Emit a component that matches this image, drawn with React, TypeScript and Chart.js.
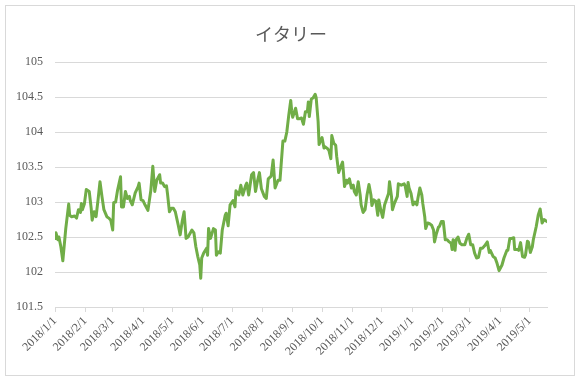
import { useEffect, useRef } from 'react';
import { Chart, registerables } from 'chart.js';

Chart.register(...registerables);

const chartTitle = 'イタリー';

const dates = [
  '2018/1/1','2018/1/2','2018/1/4','2018/1/5','2018/1/7','2018/1/9','2018/1/12','2018/1/15','2018/1/16','2018/1/18',
  '2018/1/21','2018/1/23','2018/1/25','2018/1/27','2018/1/28','2018/1/29','2018/1/31','2018/2/2','2018/2/5','2018/2/7',
  '2018/2/8','2018/2/10','2018/2/12','2018/2/14','2018/2/16','2018/2/18','2018/2/20','2018/2/23','2018/2/25','2018/2/27',
  '2018/3/1','2018/3/2','2018/3/4','2018/3/6','2018/3/9','2018/3/10','2018/3/12','2018/3/14','2018/3/16','2018/3/18',
  '2018/3/19','2018/3/21','2018/3/24','2018/3/27','2018/3/28','2018/3/30','2018/4/1','2018/4/3','2018/4/6','2018/4/9',
  '2018/4/11','2018/4/13','2018/4/15','2018/4/18','2018/4/19','2018/4/21','2018/4/23','2018/4/25','2018/4/26','2018/4/28',
  '2018/4/30','2018/5/2','2018/5/4','2018/5/7','2018/5/9','2018/5/11','2018/5/13','2018/5/15','2018/5/17','2018/5/19',
  '2018/5/21','2018/5/23','2018/5/25','2018/5/27','2018/5/29','2018/5/30','2018/5/31','2018/6/2','2018/6/5','2018/6/6',
  '2018/6/7','2018/6/9','2018/6/12','2018/6/14','2018/6/15','2018/6/17','2018/6/19','2018/6/21','2018/6/24','2018/6/25',
  '2018/6/27','2018/6/29','2018/7/2','2018/7/4','2018/7/5','2018/7/8','2018/7/10','2018/7/12','2018/7/15','2018/7/16',
  '2018/7/18','2018/7/21','2018/7/23','2018/7/25','2018/7/27','2018/7/29','2018/7/31','2018/8/3','2018/8/5','2018/8/7',
  '2018/8/10','2018/8/12','2018/8/14','2018/8/17','2018/8/19','2018/8/22','2018/8/24','2018/8/26','2018/8/28','2018/8/30',
  '2018/8/31','2018/9/1','2018/9/4','2018/9/6','2018/9/8','2018/9/10','2018/9/12','2018/9/14','2018/9/16','2018/9/17',
  '2018/9/18','2018/9/20','2018/9/22','2018/9/24','2018/9/25','2018/9/27','2018/9/28','2018/9/29','2018/10/1','2018/10/3',
  '2018/10/4','2018/10/6','2018/10/8','2018/10/10','2018/10/11','2018/10/13','2018/10/15','2018/10/16','2018/10/18','2018/10/20',
  '2018/10/22','2018/10/23','2018/10/24','2018/10/26','2018/10/27','2018/10/29','2018/10/31','2018/11/2','2018/11/3','2018/11/5',
  '2018/11/7','2018/11/9','2018/11/10','2018/11/12','2018/11/14','2018/11/16','2018/11/18','2018/11/20','2018/11/21','2018/11/23',
  '2018/11/25','2018/11/27','2018/11/28','2018/11/30','2018/12/2','2018/12/4','2018/12/5','2018/12/8','2018/12/9','2018/12/11',
  '2018/12/12','2018/12/14','2018/12/17','2018/12/18','2018/12/21','2018/12/24','2018/12/25','2018/12/27','2018/12/28','2018/12/29',
  '2018/12/31','2019/1/2','2019/1/4','2019/1/6','2019/1/7','2019/1/9','2019/1/11','2019/1/12','2019/1/14','2019/1/15',
  '2019/1/17','2019/1/19','2019/1/21','2019/1/23','2019/1/24','2019/1/26','2019/1/28','2019/1/29','2019/1/31','2019/2/2',
  '2019/2/4','2019/2/6','2019/2/8','2019/2/10','2019/2/11','2019/2/12','2019/2/14','2019/2/15','2019/2/17','2019/2/19',
  '2019/2/21','2019/2/24','2019/2/26','2019/2/28','2019/3/2','2019/3/4','2019/3/6','2019/3/8','2019/3/10','2019/3/12',
  '2019/3/14','2019/3/16','2019/3/18','2019/3/19','2019/3/21','2019/3/22','2019/3/25','2019/3/27','2019/3/29','2019/3/31',
  '2019/4/3','2019/4/5','2019/4/8','2019/4/9','2019/4/11','2019/4/13','2019/4/15','2019/4/16','2019/4/19','2019/4/20',
  '2019/4/22','2019/4/24','2019/4/26','2019/4/27','2019/4/29','2019/4/30','2019/5/2','2019/5/4','2019/5/5','2019/5/8',
  '2019/5/10','2019/5/12','2019/5/14','2019/5/16','2019/5/17','2019/5/19',
];

const values = [
  102.48,102.56,102.46,102.5,102.36,102.16,102.62,102.97,102.81,102.79,
  102.8,102.77,102.89,102.85,102.98,102.89,102.97,103.18,103.15,102.91,
  102.74,102.86,102.79,103.03,103.29,103.08,102.89,102.79,102.77,102.74,
  102.6,102.99,103.0,103.17,103.36,102.93,102.93,103.15,103.05,103.08,
  103.02,102.96,103.13,103.22,103.27,103.03,103.02,102.96,102.88,103.17,
  103.51,103.15,103.31,103.39,103.27,103.27,103.22,103.23,103.12,102.86,
  102.91,102.91,102.86,102.67,102.53,102.72,102.86,102.48,102.5,102.55,
  102.6,102.56,102.36,102.22,102.1,101.91,102.2,102.27,102.34,102.24,
  102.62,102.48,102.62,102.6,102.24,102.29,102.27,102.6,102.81,102.84,
  102.66,102.96,103.02,102.93,103.16,103.1,103.24,103.1,103.24,103.27,
  103.1,103.39,103.42,103.15,103.3,103.42,103.19,103.08,103.05,103.33,
  103.37,103.6,103.2,103.31,103.31,103.87,103.87,104.0,104.24,104.45,
  104.3,104.21,104.34,104.19,104.19,104.2,104.11,104.29,104.29,104.43,
  104.22,104.47,104.49,104.54,104.49,104.15,103.82,103.86,103.92,103.77,
  103.79,103.77,103.74,103.62,103.95,103.84,103.81,103.65,103.42,103.5,
  103.57,103.41,103.22,103.31,103.27,103.33,103.2,103.24,103.15,103.1,
  103.29,103.1,102.96,102.85,102.89,103.1,103.25,103.1,102.95,103.03,
  103.01,102.81,103.03,102.89,102.78,102.96,103.0,103.12,103.29,103.08,
  102.89,102.98,103.08,103.26,103.24,103.26,103.23,103.08,103.28,103.2,
  103.12,102.96,103.0,102.96,103.05,103.2,103.1,102.98,102.79,102.62,
  102.7,102.69,102.67,102.6,102.43,102.55,102.64,102.65,102.72,102.72,
  102.46,102.46,102.43,102.41,102.32,102.46,102.31,102.46,102.5,102.41,
  102.39,102.39,102.48,102.54,102.39,102.39,102.27,102.2,102.21,102.34,
  102.34,102.37,102.41,102.43,102.28,102.31,102.22,102.2,102.12,102.02,
  102.1,102.2,102.31,102.31,102.48,102.48,102.49,102.32,102.32,102.31,
  102.42,102.22,102.21,102.24,102.44,102.43,102.28,102.36,102.46,102.65,
  102.81,102.9,102.7,102.75,102.74,102.72,
];

const tickLabels = [
  '2018/1/1','2018/2/1','2018/3/1','2018/4/1','2018/5/1','2018/6/1','2018/7/1','2018/8/1','2018/9/1',
  '2018/10/1','2018/11/1','2018/12/1','2019/1/1','2019/2/1','2019/3/1','2019/4/1','2019/5/1',
];

const yMin = 101.5;
const yMax = 105;
const yStep = 0.5;

function dayOffset(s: string): number {
  const [y, m, d] = s.split('/').map(Number);
  return Math.round((Date.UTC(y, m - 1, d) - Date.UTC(2018, 0, 1)) / 86400000);
}

const GRID = '#d9d9d9';
const TEXT = '#595959';
const SERIF = '"Liberation Serif", "Times New Roman", serif';

export default function App() {
  const ref = useRef<HTMLCanvasElement | null>(null);

  useEffect(() => {
    if (!ref.current) return;
    const points = dates.map((d, i) => ({ x: dayOffset(d), y: values[i] }));
    const tickDays = tickLabels.map(dayOffset);
    const lastDay = dayOffset(dates[dates.length - 1]);

    const frame = {
      id: 'frame',
      beforeDraw(chart: any) {
        const ctx = chart.ctx;
        ctx.save();
        ctx.fillStyle = '#ffffff';
        ctx.fillRect(0, 0, chart.width, chart.height);
        ctx.strokeStyle = GRID;
        ctx.lineWidth = 1;
        ctx.strokeRect(5.5, 5.5, 569, 370);
        ctx.fillStyle = TEXT;
        ctx.font = '18px "Noto Sans CJK JP", sans-serif';
        ctx.textAlign = 'center';
        ctx.textBaseline = 'middle';
        ctx.fillText(chartTitle, chart.width / 2, 34);
        ctx.restore();
      },
    };

    const chart = new Chart(ref.current, {
      type: 'line',
      data: {
        datasets: [
          {
            label: chartTitle,
            data: points,
            borderColor: '#70ad47',
            backgroundColor: '#70ad47',
            borderWidth: 3,
            pointRadius: 0,
            tension: 0,
            borderJoinStyle: 'round',
            borderCapStyle: 'round',
          },
        ],
      },
      options: {
        animation: false,
        responsive: false,
        maintainAspectRatio: false,
        layout: { padding: { left: 0, right: 35, top: 62, bottom: 0 } },
        plugins: {
          legend: { display: false },
          tooltip: { enabled: false },
          title: { display: false },
        },
        scales: {
          x: {
            type: 'linear',
            min: 0,
            max: lastDay,
            afterBuildTicks: (scale: any) => {
              scale.ticks = tickDays.map((v) => ({ value: v }));
            },
            afterFit: (scale: any) => {
              scale.height = 75;
            },
            ticks: {
              autoSkip: false,
              minRotation: 45,
              maxRotation: 45,
              padding: 2,
              color: TEXT,
              font: { family: SERIF, size: 12 },
              callback: (v: any) => {
                const i = tickDays.indexOf(Number(v));
                return i >= 0 ? tickLabels[i] : '';
              },
            },
            grid: { drawOnChartArea: false, drawTicks: true, tickLength: 5, color: GRID },
            border: { display: true, color: GRID },
          },
          y: {
            min: yMin,
            max: yMax,
            afterFit: (scale: any) => {
              scale.width = 55;
            },
            ticks: {
              stepSize: yStep,
              padding: 12,
              color: TEXT,
              font: { family: SERIF, size: 12 },
              callback: (v: any) => String(Math.round(Number(v) * 10) / 10),
            },
            grid: { color: GRID, drawTicks: false },
            border: { display: false },
          },
        },
      },
      plugins: [frame],
    } as any);

    return () => chart.destroy();
  }, []);

  return (
    <div style={{ position: 'fixed', left: 0, top: 0, width: 582, height: 382, background: '#fff' }}>
      <canvas ref={ref} width={582} height={382} style={{ display: 'block' }} />
    </div>
  );
}
